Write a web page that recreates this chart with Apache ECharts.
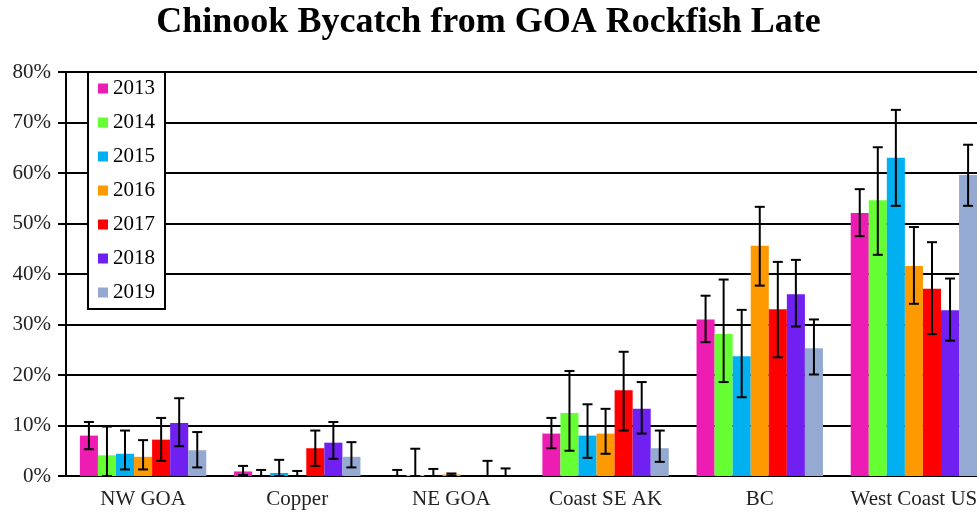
<!DOCTYPE html>
<html>
<head>
<meta charset="utf-8">
<script src="https://cdn.jsdelivr.net/npm/echarts@6/dist/echarts.min.js"></script>
<style>
  html, body { margin: 0; padding: 0; background: #fff; }
  #chart { width: 977px; height: 514px; }
</style>
</head>
<body>
<div id="chart"></div>
<script>
// categories and years
const regions = ['NW GOA', 'Copper', 'NE GOA', 'Coast SE AK', 'BC', 'West Coast US']
const years = ['2013', '2014', '2015', '2016', '2017', '2018', '2019']
const colors = ['#ED1CB2', '#66FF33', '#00B0F0', '#FF9900', '#FF0000', '#7020F0', '#95AAD2']

// bar values (%)
const val2013 = [8.0, 0.9, 0, 8.4, 31.0, 52.1]
const val2014 = [4.1, 0, 0.2, 12.5, 28.1, 54.6]
const val2015 = [4.4, 0.6, 0, 8.0, 23.7, 63.0]
const val2016 = [3.8, 0, 0.3, 8.4, 45.6, 41.6]
const val2017 = [7.2, 5.5, 0, 17.0, 33.0, 37.1]
const val2018 = [10.5, 6.6, 0, 13.3, 36.0, 32.8]
const val2019 = [5.1, 3.8, 0, 5.5, 25.3, 59.6]

// error bar low / high (%)
const lo2013 = [5.3, 0.2, 0, 5.5, 26.5, 47.5]
const hi2013 = [10.7, 2.0, 1.2, 11.5, 35.7, 56.8]
const lo2014 = [0, 0, 0, 5.0, 18.6, 43.8]
const hi2014 = [9.8, 1.2, 5.4, 20.8, 38.9, 65.1]
const lo2015 = [1.3, 0, 0, 3.6, 15.6, 53.5]
const hi2015 = [9.0, 3.2, 1.4, 14.2, 32.9, 72.5]
const lo2016 = [1.3, 0, 0.1, 4.4, 37.7, 34.1]
const hi2016 = [7.1, 1.0, 0.5, 13.3, 53.3, 49.3]
const lo2017 = [3.0, 2.0, null, 9.0, 23.5, 28.1]
const hi2017 = [11.5, 9.0, null, 24.6, 42.4, 46.3]
const lo2018 = [5.9, 3.4, 0, 8.4, 29.6, 26.8]
const hi2018 = [15.4, 10.7, 3.0, 18.6, 42.8, 39.1]
const lo2019 = [1.7, 1.7, 0, 2.8, 20.1, 53.5]
const hi2019 = [8.7, 6.7, 1.5, 9.0, 31.0, 65.6]

const yTicks = [0, 10, 20, 30, 40, 50, 60, 70, 80]

const values = [val2013, val2014, val2015, val2016, val2017, val2018, val2019]
const lows = [lo2013, lo2014, lo2015, lo2016, lo2017, lo2018, lo2019]
const highs = [hi2013, hi2014, hi2015, hi2016, hi2017, hi2018, hi2019]

const font = '"Times New Roman", "Liberation Serif", serif'
const gapRatio = 0.18

function errorSeries(s) {
  const data = regions.map((r, i) => [i, lows[s][i], highs[s][i]])
  return {
    type: 'custom',
    name: years[s] + ' err',
    z: 5,
    encode: { x: 0, y: [1, 2] },
    data: data,
    renderItem: function (params, api) {
      if (api.value(1) === null || isNaN(api.value(1))) return
      const band = api.size([1, 0])[0]
      const off = band * (1 - gapRatio) * ((s + 0.5) / years.length - 0.5)
      const pLo = api.coord([api.value(0), api.value(1)])
      const pHi = api.coord([api.value(0), api.value(2)])
      const x = pLo[0] + off
      const cap = 5
      const style = { stroke: '#000', lineWidth: 2 }
      return {
        type: 'group',
        children: [
          { type: 'line', shape: { x1: x, y1: pLo[1], x2: x, y2: pHi[1] }, style: style },
          { type: 'line', shape: { x1: x - cap, y1: pLo[1], x2: x + cap, y2: pLo[1] }, style: style },
          { type: 'line', shape: { x1: x - cap, y1: pHi[1], x2: x + cap, y2: pHi[1] }, style: style }
        ]
      }
    }
  }
}

const series = []
years.forEach((y, s) => {
  series.push({
    type: 'bar',
    name: y,
    data: values[s],
    itemStyle: { color: colors[s] },
    barGap: 0,
    barCategoryGap: (gapRatio * 100) + '%',
    animation: false
  })
})
years.forEach((y, s) => series.push(errorSeries(s)))

const chart = echarts.init(document.getElementById('chart'))
chart.setOption({
  animation: false,
  title: {
    text: 'Chinook Bycatch from GOA Rockfish Late',
    left: 'center',
    top: 0,
    textStyle: { fontFamily: font, fontWeight: 'bold', fontSize: 36, color: '#000' }
  },
  legend: {
    data: years,
    orient: 'vertical',
    left: 88,
    top: 72,
    padding: [6, 10, 6, 10],
    itemGap: 13,
    itemWidth: 10,
    itemHeight: 10,
    icon: 'rect',
    backgroundColor: '#fff',
    borderColor: '#000',
    borderWidth: 2,
    borderRadius: 0,
    textStyle: { fontFamily: font, fontSize: 21, color: '#000', lineHeight: 20 }
  },
  grid: { left: 66, width: 925, top: 72, bottom: 38, outerBoundsMode: 'none', containLabel: false },
  xAxis: {
    type: 'category',
    data: regions,
    axisLine: { lineStyle: { color: '#000', width: 2 } },
    axisTick: { length: 6, lineStyle: { color: '#000', width: 2 } },
    axisLabel: { interval: 0, fontFamily: font, fontSize: 21, color: '#222', margin: 13 }
  },
  yAxis: {
    type: 'value',
    min: yTicks[0],
    max: yTicks[yTicks.length - 1],
    interval: 10,
    axisLine: { show: true, lineStyle: { color: '#000', width: 2 } },
    axisTick: { show: true, length: 8, lineStyle: { color: '#000', width: 2 } },
    axisLabel: { fontFamily: font, fontSize: 21, color: '#222', margin: 15, formatter: '{value}%' },
    splitLine: { lineStyle: { color: '#000', width: 2 } }
  },
  series: series
})
</script>
</body>
</html>
